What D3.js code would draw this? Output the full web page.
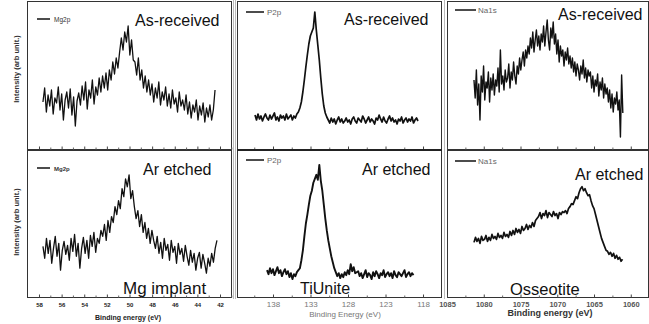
<!DOCTYPE html>
<html><head><meta charset="utf-8">
<script src="https://cdn.jsdelivr.net/npm/d3@7"></script>
<style>body{margin:0;background:#fff} svg{display:block;font-family:"Liberation Sans",Arial,sans-serif}</style>
</head><body>
<svg id="c" width="649" height="324"></svg>
<script>
// ---------------- DATA ----------------
// tick labels (binding energy, eV)
const mgTicks = [58,56,54,52,50,48,46,44,42];
const mgMinor = [57,55,53,51,49,47,45,43,41];
const pTicks = [138,133,128,123,118];
const pMinor = [140.5,135.5,130.5,125.5,120.5];
const naTicks = [1085,1080,1075,1070,1065,1060];
const naMinor = [1082.5,1077.5,1072.5,1067.5,1062.5];

// energy grids of each scan: [first, last] (uniform step)
const mgAsReceivedRange = [57.65, 42.44];
const mgArEtchedRange   = [57.65, 42.27];
const pAsReceivedRange  = [140.4, 118.67];
const pArEtchedRange    = [138.8, 119.27];
const naAsReceivedRange = [1081.33, 1061.08];
const naArEtchedRange   = [1081.33, 1061.12];

// intensities (arb. unit)
const mgAsReceived = [48,62,38,55,44,60,36,52,47,63,40,56,30,50,
 58,42,61,35,53,24,49,57,
 45,64,50,68,41,60,52,70,46,63,55,72,
 58,74,62,77,60,80,
 70,88,76,92,82,
 98,112,100,
 118,108,124,
 95,110,90,
 88,75,92,70,
 80,62,74,58,70,55,
 66,48,62,52,68,45,58,50,63,44,
 56,42,60,46,52,38,58,44,50,40,55,
 36,48,32,45,38,50,30,44,35,47,28,42,
 33,45,30,40,60];
const mgArEtched = [52,40,60,45,58,35,50,62,42,55,28,48,57,44,
 53,38,60,47,64,42,55,30,50,61,45,58,40,63,52,66,46,60,55,68,
 62,74,58,78,66,82,
 76,92,84,98,90,
 110,102,120,112,
 124,100,108,
 92,80,88,72,84,
 66,76,60,70,55,68,58,
 50,62,45,56,40,60,48,54,38,58,46,52,35,55,44,50,37,53,
 42,33,48,36,45,28,40,46,30,44,35,25,
 40,32,45,36,50,58];
const pAsReceived = [35,30,36,31,34,29,33,36,32,30,35,31,34,37,30,33,29,35,32,34,30,36,31,33,35,30,34,32,36,
 38,42,48,58,70,83,95,106,114,118,122,138,120,105,90,72,56,44,37,33,
 30,27,32,28,31,26,30,33,28,31,27,29,32,28,30,26,31,33,29,27,
 32,30,28,34,31,27,30,33,28,31,29,26,32,30,35,31,28,33,29,27,
 31,34,29,32,28,30,26,31,29,33,27,30,32,28,31,29,33,27,30,32,29];
const pArEtched = [28,24,30,25,29,23,27,31,25,28,22,26,29,24,27,21,25,19,24,22,26,28,
 30,38,48,62,75,84,94,103,108,116,120,124,119,134,118,108,94,80,68,58,50,42,36,30,26,22,25,20,24,21,26,23,28,24,34,27,31,25,26,
 27,22,25,20,24,28,21,25,23,19,26,22,27,24,20,25,23,28,21,24,
 26,22,25,20,27,23,21,26,24,22,25,28,21,24,26,22,25,23];
const naAsReceived = [70,52,80,45,66,30,74,58,84,50,68,62,78,48,72,
 60,76,55,70,64,82,58,100,66,74,60,80,68,72,86,62,78,70,88,74,66,84,76,92,80,
 90,98,84,100,92,104,
 96,112,102,118,98,110,120,104,114,100,116,
 108,124,104,118,130,110,100,122,112,128,106,116,
 96,110,88,104,94,100,84,98,90,102,86,94,82,
 92,78,88,74,86,80,70,84,76,90,72,82,68,80,74,78,
 62,74,58,70,64,76,54,68,60,72,52,66,56,62,
 48,60,42,56,38,52,46,58,40,50,13,75,37];
const naArEtched = [56,61,57,60,55,62,58,59,63,57,61,58,64,60,62,59,65,61,63,60,66,62,64,61,67,
 63,68,64,70,66,69,65,72,68,70,74,69,73,71,76,72,78,80,
 82,86,80,85,83,88,81,86,84,82,87,83,85,80,86,84,87,
 86,88,85,90,92,95,94,
 98,102,100,106,110,
 112,108,110,
 106,103,104,
 98,93,90,
 84,78,72,66,
 60,56,52,48,
 47,44,46,42,45,40,43,39,41,37,39];

// ---------------- LAYOUT ----------------
const svg = d3.select("#c");
const cols = [
  {x0:27, x1:232, dom:[59.06,40.94], major:mgTicks, minor:mgMinor,
   series:[[mgAsReceivedRange,mgAsReceived],[mgArEtchedRange,mgArEtched]], lw:1.3, lw2:1.3},
  {x0:237, x1:442, dom:[142.8,115.47], major:pTicks, minor:pMinor,
   series:[[pAsReceivedRange,pAsReceived],[pArEtchedRange,pArEtched]], lw:1.7, lw2:1.9},
  {x0:447, x1:649, dom:[1085,1057.52], major:naTicks, minor:naMinor,
   series:[[naAsReceivedRange,naAsReceived],[naArEtchedRange,naArEtched]], lw:1.4, lw2:1.7}
];
const rows = [{y0:1, y1:149}, {y0:150, y1:297}];

// light gray edges of the three sub-images
[233.5, 235.5, 444.5].forEach(xv=>{
  svg.append("line").attr("x1",xv).attr("x2",xv).attr("y1",0).attr("y2",299)
    .attr("stroke","#bbb").attr("stroke-width",1);
});

cols.forEach((c,ci)=>{
  const x = d3.scaleLinear().domain(c.dom).range([c.x0,c.x1]);
  rows.forEach((r,ri)=>{
    const y = d3.scaleLinear().domain([0,148]).range([r.y1+1, r.y0+1]);
    const g = svg.append("g");
    g.append("rect").attr("x",c.x0+0.5).attr("y",r.y0+0.5).attr("width",c.x1-c.x0-1).attr("height",r.y1-r.y0)
      .attr("fill","none").attr("stroke","#333").attr("stroke-width",1);
    const ax = d3.axisBottom(x).tickValues(c.major).tickSize(-3).tickPadding(ci===0?5:4)
      .tickFormat(ri===1 ? d3.format("d") : "");
    const axg = g.append("g").attr("transform",`translate(0,${r.y1+0.5})`).call(ax);
    axg.select(".domain").remove();
    axg.selectAll("line").attr("stroke","#444");
    const mx = d3.axisBottom(x).tickValues(c.minor).tickSize(-2).tickFormat("");
    const mg = g.append("g").attr("transform",`translate(0,${r.y1+0.5})`).call(mx);
    mg.select(".domain").remove();
    mg.selectAll("line").attr("stroke","#666");
    if (ri===1) {
      const t = axg.selectAll("text").attr("font-family","Liberation Sans, Arial");
      if (ci===0) t.attr("font-size",6).attr("font-weight","bold").attr("fill","#222");
      if (ci===1) t.attr("font-size",8).attr("fill","#777");
      if (ci===2) t.attr("font-size",7.5).attr("font-weight","bold").attr("fill","#555");
    }
    const [rng, vals] = c.series[ri];
    const n = vals.length;
    const step = (rng[1]-rng[0])/(n-1);
    const line = d3.line().x((d,i)=>x(rng[0]+step*i)).y(d=>y(d));
    g.append("path").datum(vals).attr("d",line).attr("fill","none")
      .attr("stroke","#111").attr("stroke-width", ri===0?c.lw:c.lw2).attr("stroke-linejoin","round");
  });
});
svg.append("line").attr("x1",237).attr("x2",442).attr("y1",150).attr("y2",150).attr("stroke","#222").attr("stroke-width",2.2);

// ---------------- TEXT ----------------
function txt(s,x,y,size,opts={}){
  const t = svg.append("text").attr("x",x).attr("y",y).attr("font-size",size)
    .attr("fill",opts.fill||"#111").text(s);
  if(opts.bold) t.attr("font-weight","bold");
  if(opts.anchor) t.attr("text-anchor",opts.anchor);
  return t;
}
txt("As-received",135,26,16);
txt("Ar etched",143,175,16);
txt("Mg implant",123,294,17);
txt("As-received",344,25,16);
txt("Ar etched",362,175,16);
txt("TiUnite",300,294,16);
txt("As-received",558,20,16);
txt("Ar etched",575,180,16);
txt("Osseotite",510,295,16.5);

function legend(x1,x2,y,label,tx,size,fill,bold){
  svg.append("line").attr("x1",x1).attr("x2",x2).attr("y1",y).attr("y2",y).attr("stroke","#111").attr("stroke-width",1.5);
  txt(label,tx,y+2.5,size,{fill:fill,bold:bold});
}
legend(37,50,19,"Mg2p",54,6.5,"#333",false);
legend(37,50,168,"Mg2p",54,6,"#333",true);
legend(246,264,12,"P2p",267,8,"#666",false);
legend(246,264,160,"P2p",267,8,"#666",false);
legend(455,476,10,"Na1s",478,8,"#666",false);
legend(455,476,161,"Na1s",478,8,"#666",false);

[69,222].forEach(cy=>{
  svg.append("text").attr("transform",`translate(19,${cy}) rotate(-90)`).attr("text-anchor","middle")
    .attr("font-size",7.5).attr("font-weight","bold").attr("fill","#333").text("Intensity (arb unit.)");
});
txt("Binding energy (eV)",128,320,7,{bold:true,anchor:"middle",fill:"#222"});
txt("Binding Energy (eV)",345,317,8,{anchor:"middle",fill:"#777"});
txt("Binding energy (eV)",550,316,9,{bold:true,anchor:"middle",fill:"#333"});
</script>
</body></html>
